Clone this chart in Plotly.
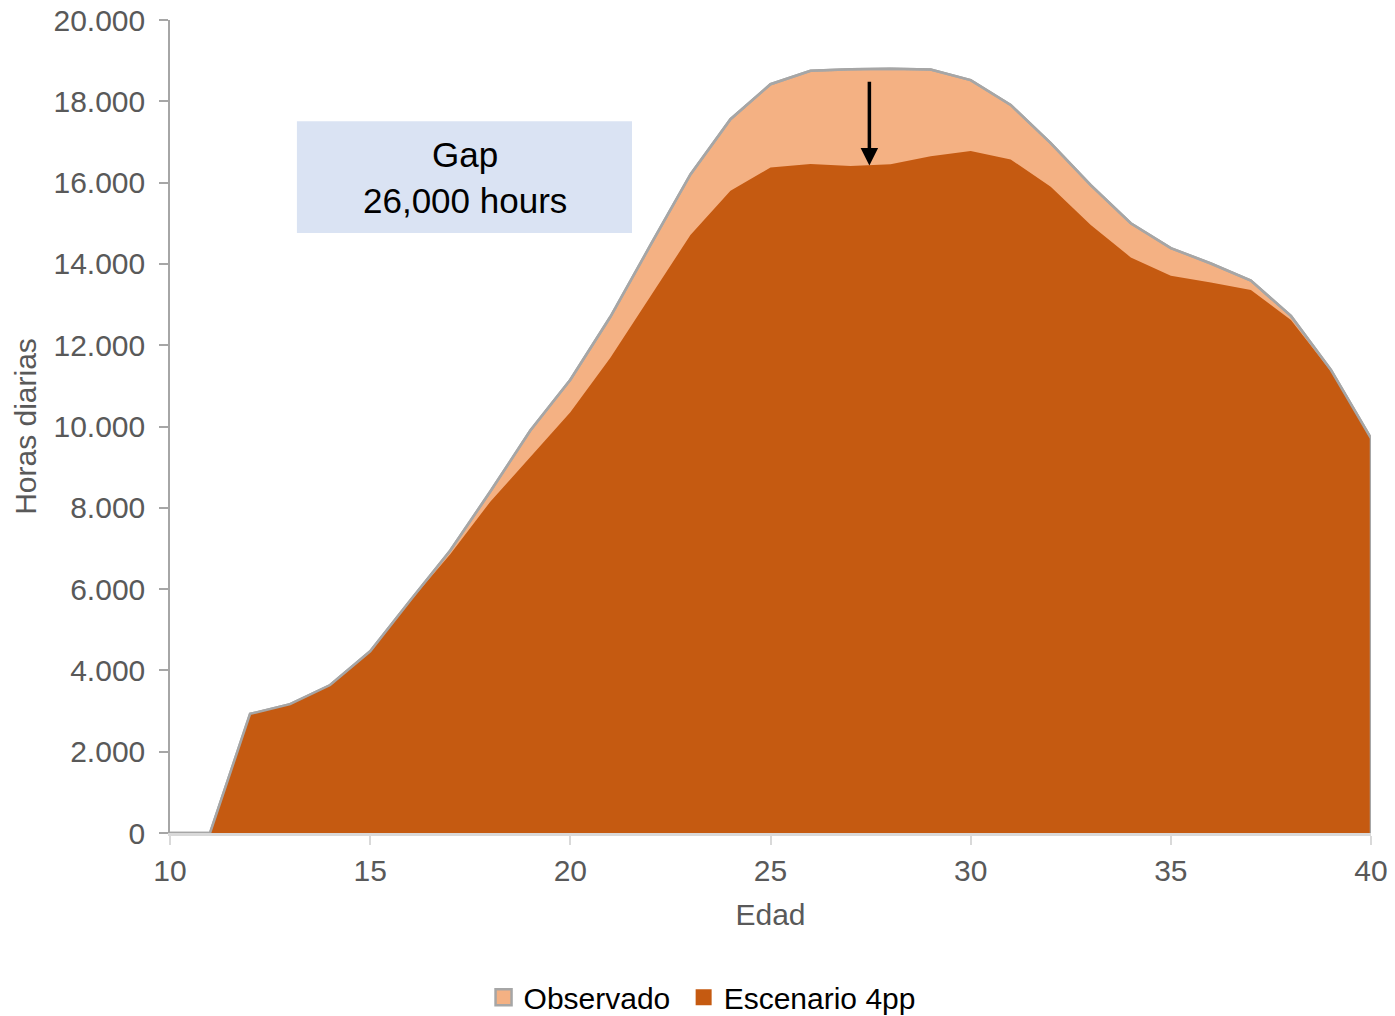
import plotly.graph_objects as go

edad = list(range(10, 41))
observado = [0, 0, 2930, 3170, 3640, 4470, 5720, 6950, 8400, 9900, 11150, 12700,
             14460, 16200, 17560, 18420, 18750, 18790, 18800, 18780, 18520, 17910,
             16970, 15940, 15000, 14390, 14010, 13590, 12720, 11390, 9710]
escenario = [0, 0, 2930, 3170, 3640, 4470, 5700, 6860, 8150, 9260, 10350, 11690,
             13190, 14710, 15800, 16370, 16460, 16410, 16450, 16650, 16780, 16570,
             15900, 14960, 14160, 13710, 13540, 13360, 12620, 11350, 9710]
y_ticks = [0, 2000, 4000, 6000, 8000, 10000, 12000, 14000, 16000, 18000, 20000]
x_ticks = [10, 15, 20, 25, 30, 35, 40]

FONT = "Liberation Sans, Arial, sans-serif"
GRAY = "#595959"
OUTLINE = "#A6A6A6"
LIGHT = "#F4B183"
DARK = "#C55A11"

fig = go.Figure()
fig.add_trace(go.Scatter(
    x=edad, y=observado, name="Observado", mode="lines", showlegend=False,
    fill="tozeroy", fillcolor=LIGHT, line=dict(color=OUTLINE, width=2.5),
))
fig.add_trace(go.Scatter(
    x=edad, y=escenario, name="Escenario 4pp", mode="lines", showlegend=False,
    fill="tozeroy", fillcolor=DARK, line=dict(color=DARK, width=0),
))
# outline of the observed area drawn on top
fig.add_trace(go.Scatter(
    x=edad + [edad[-1]], y=observado + [0], mode="lines", showlegend=False,
    hoverinfo="skip", line=dict(color=OUTLINE, width=2.5),
))
# legend entries (square swatches)
fig.add_trace(go.Scatter(
    x=[None], y=[None], name="Observado\u00a0", mode="markers",
    marker=dict(symbol="square", size=17, color=LIGHT, line=dict(color=OUTLINE, width=2.5)),
))
fig.add_trace(go.Scatter(
    x=[None], y=[None], name="Escenario 4pp", mode="markers",
    marker=dict(symbol="square", size=17, color=DARK, line=dict(width=0)),
))

fig.add_shape(type="rect", xref="x", yref="y",
              x0=13.17, x1=21.54, y0=14760, y1=17510,
              fillcolor="#DAE3F3", line=dict(width=0), layer="above")
fig.add_annotation(x=17.36, y=16130, xref="x", yref="y",
                   text="Gap<br>26,000 hours", showarrow=False,
                   font=dict(family=FONT, size=35, color="black"),
                   align="center")
fig.add_annotation(x=27.47, y=16420, ax=27.47, ay=18520,
                   xref="x", yref="y", axref="x", ayref="y",
                   text="", showarrow=True, arrowhead=2, arrowsize=1,
                   arrowwidth=3.5, arrowcolor="black")

fig.update_layout(
    width=1395, height=1016,
    margin=dict(l=170, r=24, t=20, b=183, autoexpand=False),
    paper_bgcolor="white", plot_bgcolor="white",
    separators=",.",
    font=dict(family=FONT, size=30, color=GRAY),
    showlegend=True,
    legend=dict(orientation="h", x=0.443, xanchor="center", y=-0.202, yanchor="middle",
                font=dict(family=FONT, size=30, color="black"),
                itemwidth=30, traceorder="normal"),
    xaxis=dict(range=[10, 40], tickvals=x_ticks, showgrid=False, zeroline=False,
               automargin=False, ticklabeloverflow="allow",
               showline=True, linecolor="#D9D9D9", linewidth=3,
               ticks="outside", ticklen=9, tickcolor="#D9D9D9", tickwidth=2,
               tickfont=dict(family=FONT, size=30, color=GRAY),
               title=dict(text="Edad", standoff=18,
                          font=dict(family=FONT, size=30, color=GRAY))),
    yaxis=dict(range=[0, 20000], tickvals=y_ticks, tickformat=",d",
               showgrid=False, zeroline=False, automargin=False,
               ticklabeloverflow="allow",
               showline=True, linecolor=OUTLINE, linewidth=1.5,
               ticks="outside", ticklen=9, tickcolor=OUTLINE, tickwidth=1.5,
               ticklabelstandoff=8,
               tickfont=dict(family=FONT, size=30, color=GRAY),
               title=dict(text="Horas diarias", standoff=8,
                          font=dict(family=FONT, size=30, color=GRAY))),
)

fig.write_html("out.html", config={"displayModeBar": False},
               post_script="document.body.style.margin='0px';document.body.style.overflow='hidden';")
